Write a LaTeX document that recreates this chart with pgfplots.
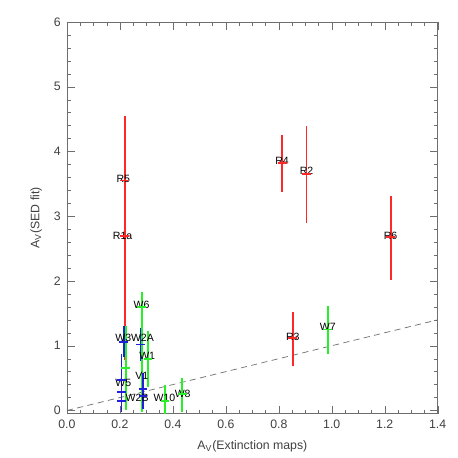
\documentclass[border=0pt]{standalone}
\usepackage{pgfplots}
\pgfplotsset{compat=1.18}
\usepackage{fontspec}
\setmainfont{Liberation Sans}
\definecolor{idlred}{RGB}{255,40,40}
\definecolor{idlgreen}{RGB}{40,240,40}
\definecolor{idlblue}{RGB}{30,30,220}
\definecolor{axgray}{RGB}{110,110,110}

\pgfplotsset{
  ebar/.style={
    line width=1.0pt, mark=-, mark size=2.5pt, only marks,
    error bars/.cd, y dir=both, y explicit, error mark=none,
    error bar style={line width=1.0pt, #1},
  },
}

\begin{document}
\begin{tikzpicture}
\begin{axis}[
    scale only axis,
    width=7.42cm, height=7.84cm,
    xmin=0, xmax=1.4, ymin=-0.05, ymax=6,
    xtick={0,0.2,...,1.4}, ytick={0,1,...,6},
    minor x tick num=3, minor y tick num=4,
    tick align=inside, major tick length=0.16cm, minor tick length=0.08cm,
    axis line style={axgray}, tick style={axgray},
    xticklabel style={/pgf/number format/.cd, fixed, fixed zerofill, precision=1},
    /pgf/number format/assume math mode=true,
    tick label style={font=\fontsize{7}{8}\selectfont, text=black!75},
    label style={font=\fontsize{7}{8}\selectfont, text=black!75},
    xlabel={A\textsubscript{V}(Extinction maps)},
    ylabel={A\textsubscript{V}(SED fit)},
    clip=false,
]
    % one-to-one line
    \addplot[axgray, dash pattern=on 3.5pt off 2.5pt, thin] coordinates {(0,0) (1.4,1.4)};

    % red sources
    \addplot[idlred, ebar=idlred] coordinates {
        (0.218,3.55) += (0,1.00) -= (0,1.00)
        (0.218,2.70) += (0,1.80) -= (0,1.92)
        (0.813,3.82) += (0,0.43) -= (0,0.45)
        (0.905,3.65) += (0,0.75) -= (0,0.76)
        (1.223,2.68) += (0,0.63) -= (0,0.66)
        (0.853,1.12) += (0,0.40) -= (0,0.43)
    };
    % green sources
    \addplot[idlgreen, ebar=idlgreen] coordinates {
        (0.222,0.66) += (0,0.65) -= (0,0.65)
        (0.282,1.60) += (0,0.23) -= (0,1.62)
        (0.306,0.80) += (0,0.43) -= (0,0.43)
        (0.370,0.15) += (0,0.25) -= (0,0.20)
        (0.435,0.25) += (0,0.25) -= (0,0.27)
        (0.985,1.25) += (0,0.36) -= (0,0.38)
    };
    % blue sources
    \addplot[idlblue, ebar=idlblue] coordinates {
        (0.215,1.06) += (0,0.24) -= (0,0.24)
        (0.278,1.02) += (0,0.25) -= (0,0.25)
        (0.206,0.47) += (0,0.41) -= (0,0.50)
        (0.206,0.28) += (0,0.25) -= (0,0.25)
        (0.206,0.15) += (0,0.15) -= (0,0.15)
        (0.287,0.33) += (0,0.25) -= (0,0.30)
        (0.287,0.22) += (0,0.15) -= (0,0.15)
    };

    \begin{scope}[every node/.style={font=\fontsize{6}{7}\selectfont, inner sep=0pt}]
    \node at (axis cs:0.213,3.57) {R5};
    \node at (axis cs:0.210,2.70) {R1a};
    \node at (axis cs:0.812,3.85) {R4};
    \node at (axis cs:0.905,3.70) {R2};
    \node at (axis cs:1.222,2.70) {R6};
    \node at (axis cs:0.853,1.14) {R3};
    \node at (axis cs:0.985,1.29) {W7};
    \node at (axis cs:0.282,1.63) {W6};
    \node at (axis cs:0.213,1.12) {W3};
    \node at (axis cs:0.285,1.12) {W2A};
    \node at (axis cs:0.303,0.85) {W1};
    \node at (axis cs:0.283,0.54) {V1};
    \node at (axis cs:0.213,0.43) {W5};
    \node at (axis cs:0.265,0.20) {W2B};
    \node at (axis cs:0.368,0.19) {W10};
    \node at (axis cs:0.437,0.26) {W8};
    \end{scope}
\end{axis}
\path (current axis.south west) ++(-1.34cm,-0.88cm) coordinate (bbA);
\path (current axis.north east) ++(0.40cm,0.44cm) coordinate (bbB);
\path (bbA) rectangle (bbB);
\end{tikzpicture}
\end{document}
